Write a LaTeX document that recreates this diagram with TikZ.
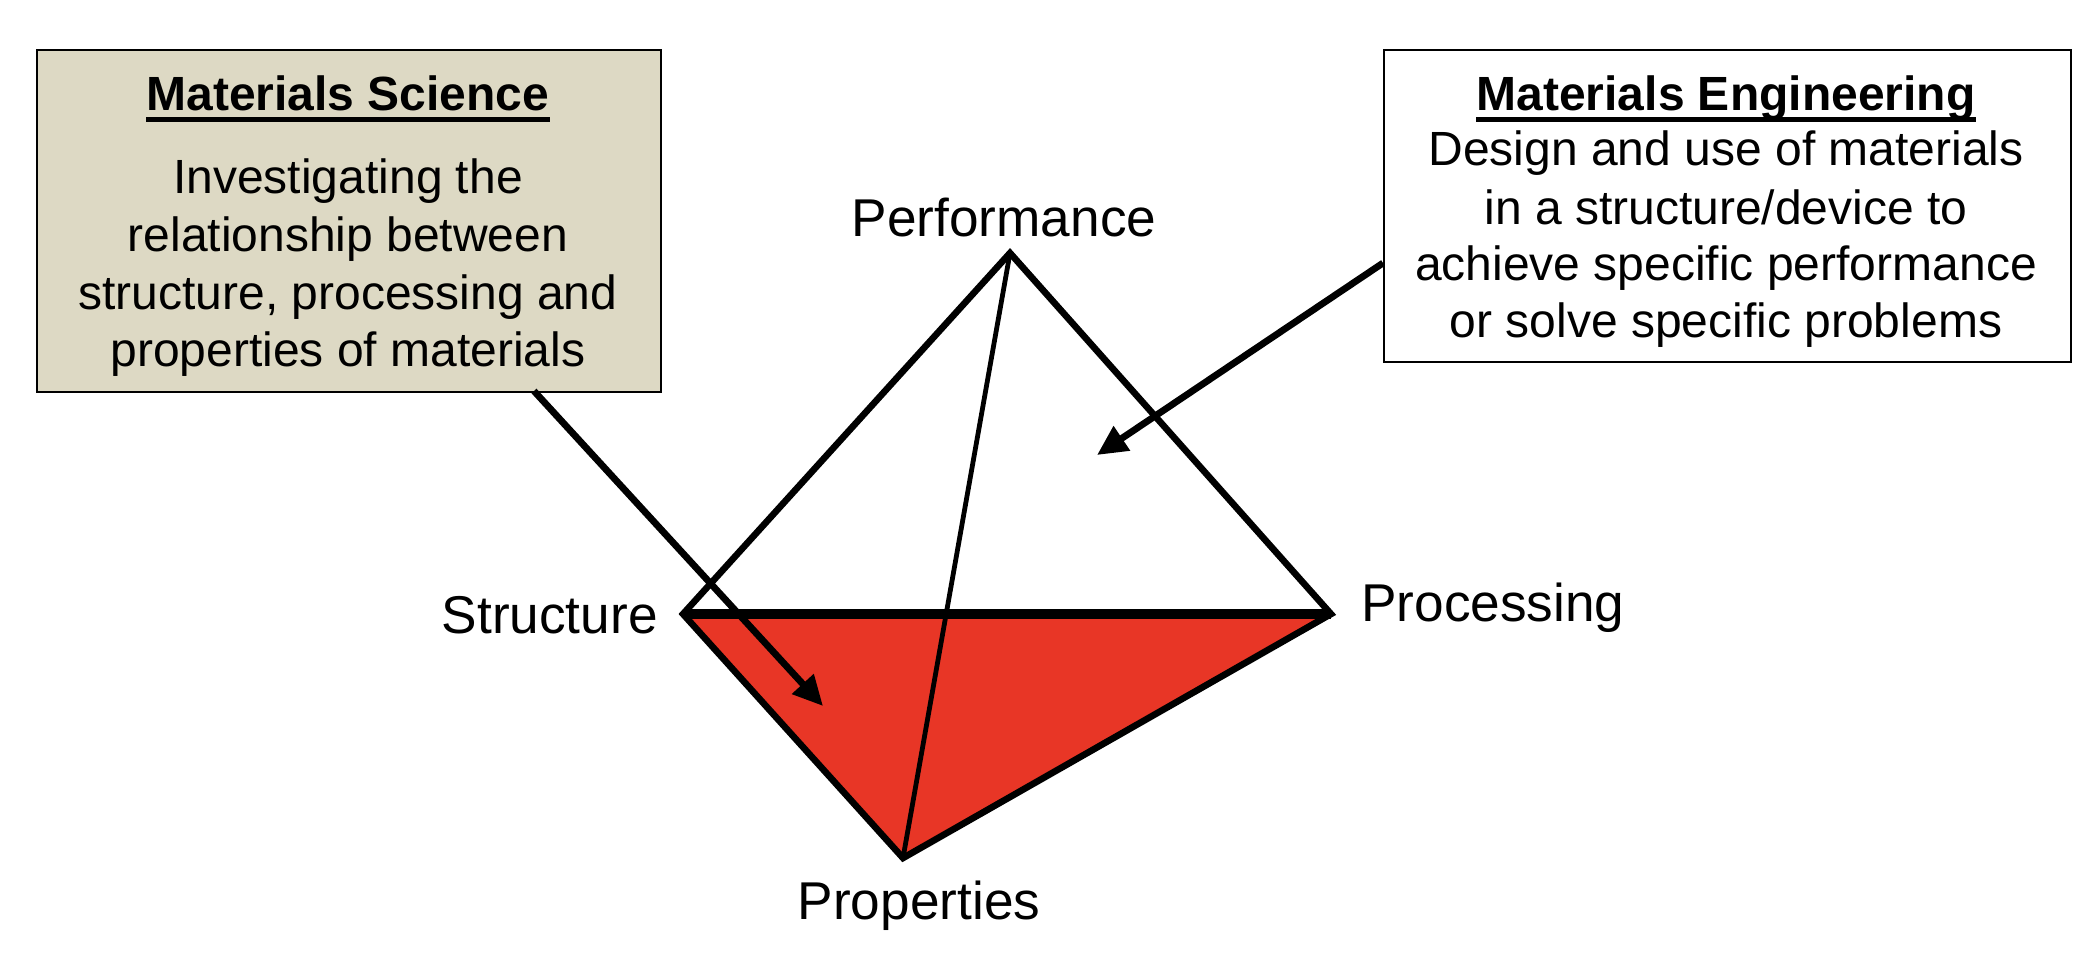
\documentclass[tikz,border=0pt]{standalone}
\usepackage{fontspec}
\setmainfont{Liberation Sans}
\usetikzlibrary{arrows.meta}
\definecolor{tanfill}{RGB}{221,217,196}
\definecolor{pyred}{RGB}{232,54,38}
\begin{document}
\begin{tikzpicture}[x=0.5pt,y=-0.5pt,
  boxframe/.style={draw=black,line width=1.1pt,inner sep=0pt,anchor=north west},
  bodytext/.style={font=\fontsize{24}{28}\selectfont,anchor=base,inner sep=0pt},
  titletext/.style={font=\fontsize{24}{28}\selectfont\bfseries,anchor=base,inner sep=0pt},
  underline/.style={line width=2.4pt},
  vlabel/.style={font=\fontsize{26.6}{30}\selectfont,inner sep=0pt},
  edge/.style={line width=3.3pt,line join=miter},
  pointer/.style={line width=3.4pt,-{Triangle[length=15pt,width=14pt]}}]
\useasboundingbox (0,0) rectangle (2092,954);

% boxes
\node[boxframe,fill=tanfill,minimum width=312pt,minimum height=171pt] (scibox) at (36,49) {};
\node[boxframe,fill=white,minimum width=343.5pt,minimum height=156pt] (engbox) at (1383,49) {};

% science text
\node[titletext] (scititle) at (348,110) {Materials Science};
\draw[underline] ([yshift=-4.8pt]scititle.base west) -- ([yshift=-4.8pt]scititle.base east);
\node[bodytext] (sci1) at (348,193) {Investigating the};
\node[bodytext] (sci2) at (348,251) {relationship between};
\node[bodytext] (sci3) at (348,309) {structure, processing and};
\node[bodytext] (sci4) at (348,366) {properties of materials};

% engineering text
\node[titletext] (engtitle) at (1726,110) {Materials Engineering};
\draw[underline] ([yshift=-4.8pt]engtitle.base west) -- ([yshift=-4.8pt]engtitle.base east);
\node[bodytext] (eng1) at (1726,165) {Design and use of materials};
\node[bodytext] (eng2) at (1726,224) {in a structure/device to};
\node[bodytext] (eng3) at (1726,280) {achieve specific performance};
\node[bodytext] (eng4) at (1726,337) {or solve specific problems};

% pyramid vertices
\coordinate (P) at (1010,253);
\coordinate (S) at (683,614);
\coordinate (R) at (1331,614);
\coordinate (Q) at (903,858);

\fill[pyred] (S) -- (R) -- (Q) -- cycle;
\draw[edge] (P) -- (S) -- (Q) -- (R) -- cycle;
\draw[line width=2.4pt] (P) -- (Q);
\draw[line width=5pt] (S) -- (R);

% labels
\node[vlabel,anchor=base] (perflabel) at (1004,236) {Performance};
\node[vlabel,anchor=base east] (structlabel) at (658,633) {Structure};
\node[vlabel,anchor=base west] (proclabel) at (1361,621) {Processing};
\node[vlabel,anchor=base] (proplabel) at (919,919) {Properties};

% pointers
\coordinate (scistart) at (534,391);
\coordinate (scitip) at (823,706);
\coordinate (engstart) at (1383,263);
\coordinate (engtip) at (1097,455);
\draw[pointer] (scistart) -- (scitip);
\draw[pointer] (engstart) -- (engtip);
\end{tikzpicture}
\end{document}
